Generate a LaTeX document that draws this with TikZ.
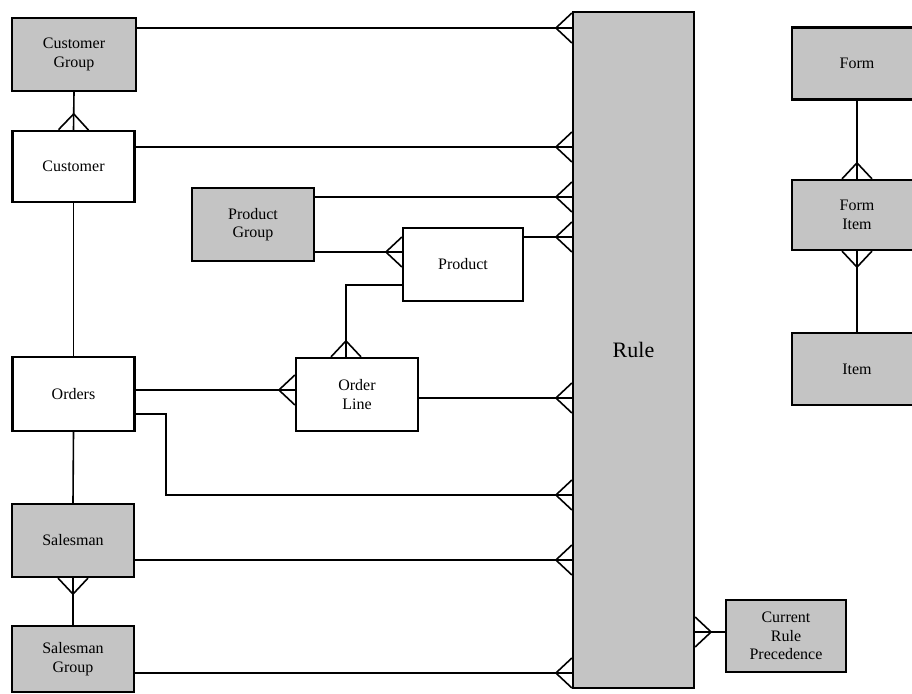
\documentclass[tikz,border=0pt]{standalone}
\usepackage{fontspec}
\setmainfont{Liberation Serif}
\usetikzlibrary{positioning,decorations.markings}
\definecolor{shadecolor}{RGB}{196,196,196}
\tikzset{
    entity/.style={rectangle, draw, line width=1.1pt, inner sep=0pt, minimum width=61pt, minimum height=36.5pt, align=center, font=\fontsize{8}{9.3}\selectfont},
    plain entity/.style={entity, fill=white},
    shaded entity/.style={entity, fill=shadecolor},
    link/.style={line width=0.8pt},
    many end/.style={postaction={decorate}, decoration={markings, mark=at position 1 with {\draw[link] (-8pt,0) -- (0,7.5pt) (-8pt,0) -- (0,-7.5pt);}}},
    many start/.style={postaction={decorate}, decoration={markings, mark=at position 0 with {\draw[link] (8pt,0) -- (0,7.5pt) (8pt,0) -- (0,-7.5pt);}}}
}
\begin{document}
\begin{tikzpicture}[x=0.5pt, y=-0.5pt]
    \useasboundingbox (0,0) rectangle (912,694);

    % Entities - left column
    \node[shaded entity, minimum width=62pt] (cgroup) at (74,54.5) {Customer\\Group};
    \node[plain entity, minimum height=35.5pt] (cust) at (73.5,166.5) {Customer};
    \node[plain entity, minimum height=37pt] (orders) at (73.5,394) {Orders};
    \node[shaded entity] (salesman) at (73,540.5) {Salesman};
    \node[shaded entity, minimum height=33pt] (sgroup) at (73,659) {Salesman\\Group};

    % Entities - middle
    \node[shaded entity] (pgroup) at (253,224.5) {Product\\Group};
    \node[plain entity, minimum width=60pt] (product) at (463,264.5) {Product};
    \node[plain entity] (oline) at (357,394.5) {Order\\Line};

    % Rule and its precedence
    \node[shaded entity, minimum width=60.5pt, minimum height=338pt, font=\fontsize{11}{13}\selectfont] (rule) at (633.5,350) {Rule};
    \node[shaded entity, minimum width=60pt, minimum height=36pt] (crp) at (786,636) {Current\\Rule\\Precedence};

    % Entities - right column
    \node[shaded entity, minimum width=65pt, minimum height=36pt] (form) at (857,63.5) {Form};
    \node[shaded entity, minimum width=65pt, minimum height=35pt] (fitem) at (857,215) {Form\\Item};
    \node[shaded entity, minimum width=65pt, minimum height=36pt] (item) at (857,369) {Item};

    % Links into Rule
    \draw[link, many end] (cgroup.east |- 0,28) -- (rule.west |- 0,28);
    \draw[link, many end] (cust.east |- 0,147) -- (rule.west |- 0,147);
    \draw[link, many end] (pgroup.east |- 0,197) -- (rule.west |- 0,197);
    \draw[link, many end] (product.east |- 0,237) -- (rule.west |- 0,237);
    \draw[link, many end] (oline.east |- 0,398) -- (rule.west |- 0,398);
    \draw[link, many end] (orders.east |- 0,414) -- (166,414) -- (166,495) -- (rule.west |- 0,495);
    \draw[link, many end] (salesman.east |- 0,560) -- (rule.west |- 0,560);
    \draw[link, many end] (sgroup.east |- 0,673) -- (rule.west |- 0,673);
    \draw[link, many start] (rule.east |- 0,632) -- (crp.west |- 0,632);

    % Other links
    \draw[link, many end] (pgroup.east |- 0,252) -- (product.west |- 0,252);
    \draw[link, many end] (orders.east |- 0,390) -- (oline.west |- 0,390);
    \draw[link, many end] (product.west |- 0,285) -| (oline.north -| 346,0);
    \draw[link, many end] (cgroup.south) -- (cust.north);
    \draw[link] (cust.south) -- (orders.north);
    \draw[link] (orders.south) -- (salesman.north);
    \draw[link, many start] (salesman.south) -- (sgroup.north);
    \draw[link, many end] (form.south) -- (fitem.north);
    \draw[link, many start] (fitem.south) -- (item.north);
\end{tikzpicture}
\end{document}
